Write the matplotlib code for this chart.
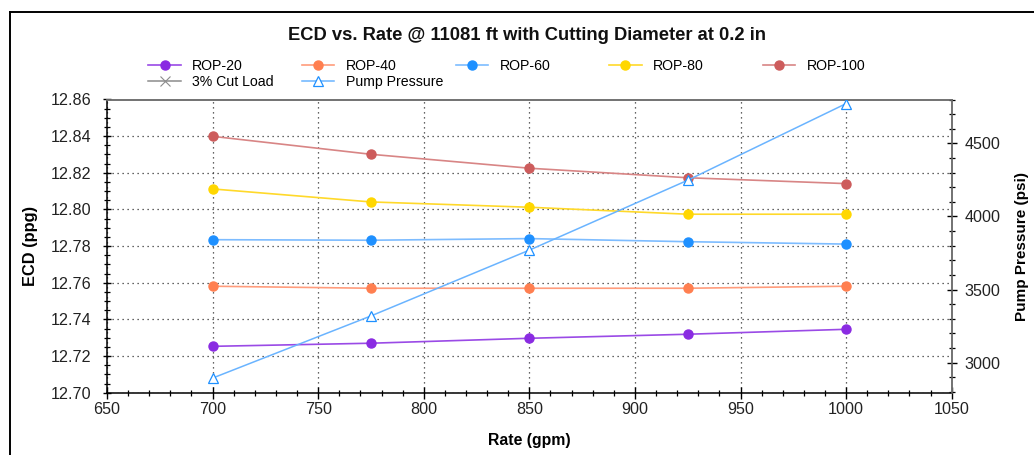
import matplotlib
matplotlib.use('Agg')
import matplotlib.pyplot as plt
from matplotlib.lines import Line2D
from matplotlib.ticker import MultipleLocator, FormatStrFormatter

plt.rcParams['font.family'] = ['Liberation Sans', 'DejaVu Sans']

# data
rates = [700, 775, 850, 925, 1000]
rop_20 = [12.7253, 12.7270, 12.7297, 12.7319, 12.7346]
rop_40 = [12.7581, 12.7570, 12.7570, 12.7570, 12.7581]
rop_60 = [12.7835, 12.7832, 12.7841, 12.7824, 12.7811]
rop_80 = [12.8112, 12.8041, 12.8012, 12.7974, 12.7974]
rop_100 = [12.8399, 12.8301, 12.8225, 12.8173, 12.8141]
pump_pressure = [2895, 3320, 3770, 4248, 4772]

series_names = ['ROP-20', 'ROP-40', 'ROP-60', 'ROP-80', 'ROP-100']
series_values = [rop_20, rop_40, rop_60, rop_80, rop_100]
marker_colors = ['#8a2be2', '#ff7f50', '#1e90ff', '#ffd700', '#cd5c5c']
line_colors = ['#9a4ae6', '#ff9c7c', '#7dbcff', '#ffd92a', '#d88585']

title = 'ECD vs. Rate @ 11081 ft with Cutting Diameter at 0.2 in'

W, H = 1034, 455
fig = plt.figure(figsize=(W / 100, H / 100), dpi=100)
ax = fig.add_axes([107 / W, 1 - 392.7 / H, (951.7 - 107) / W, (392.7 - 99.5) / H])
ax2 = ax.twinx()

handles = {}
for name, vals, mc, lc in zip(series_names, series_values, marker_colors, line_colors):
    h, = ax.plot(rates, vals, color=lc, lw=1.2, marker='o', ms=6.5,
                 mfc=mc, mec=mc, zorder=3)
    handles[name] = h

hp, = ax2.plot(rates, pump_pressure, color='#6ab4ff', lw=1.1, marker='^', ms=6.5,
               mfc='white', mec='#1e90ff', mew=0.9, zorder=3)
handles['Pump Pressure'] = hp
handles['3% Cut Load'] = Line2D([], [], color='#8c8c8c', lw=1.1, marker='x', ms=7, mew=0.8)

# axes limits and ticks
ax.set_xlim(650, 1050)
ax.set_ylim(12.70, 12.86)
ax2.set_ylim(2795, 4800)
ax.xaxis.set_major_locator(MultipleLocator(50))
ax.xaxis.set_minor_locator(MultipleLocator(10))
ax.yaxis.set_major_locator(MultipleLocator(0.02))
ax.yaxis.set_minor_locator(MultipleLocator(0.005))
ax.yaxis.set_major_formatter(FormatStrFormatter('%.2f'))
ax2.yaxis.set_major_locator(MultipleLocator(500))
ax2.yaxis.set_minor_locator(MultipleLocator(100))

ax.tick_params(axis='x', which='major', direction='inout', length=8, width=1, labelsize=11.6, pad=3)
ax.tick_params(axis='x', which='minor', direction='inout', length=4.5, width=0.9)
ax.tick_params(axis='y', which='major', direction='inout', length=6, width=1, labelsize=11.6, pad=8)
ax.tick_params(axis='y', which='minor', direction='inout', length=4, width=0.9)
ax2.tick_params(axis='y', which='major', direction='inout', length=7, width=1, labelsize=11.6, pad=6)
ax2.tick_params(axis='y', which='minor', direction='inout', length=4, width=0.9)
for t in ax.get_xticklabels() + ax.get_yticklabels() + ax2.get_yticklabels():
    t.set_color('#222222')

ax.grid(True, which='major', color='#333333', lw=0.9, linestyle=(0, (1, 3)))

for s in ['left', 'bottom']:
    ax.spines[s].set_color('black')
    ax.spines[s].set_linewidth(1.1)
for s in ['top', 'right']:
    ax.spines[s].set_color('#6e6e6e')
    ax.spines[s].set_linewidth(1.1)
    ax2.spines[s].set_color('#6e6e6e')
    ax2.spines[s].set_linewidth(1.1)
ax2.spines['left'].set_visible(False)
ax2.spines['bottom'].set_visible(False)

ax.set_xlabel('Rate (gpm)', fontsize=11.3, fontweight='bold')
ax.set_ylabel('ECD (ppg)', fontsize=11.8, fontweight='bold')
ax2.set_ylabel('Pump Pressure (psi)', fontsize=11, fontweight='bold')
ax.xaxis.set_label_coords(0.5, (392.7 - 440) / 293.2)
ax.yaxis.set_label_coords((30 - 107) / 844.7, 0.5)
ax2.yaxis.set_label_coords((1022 - 107) / 844.7, 0.5)
for lab in [ax.xaxis.label, ax.yaxis.label, ax2.yaxis.label]:
    lab.set_va('center')
    lab.set_ha('center')

fig.text(527 / W, 1 - 35 / H, title, ha='center', va='center',
         fontsize=13.2, fontweight='bold', color='#111111')

# legend laid out on an even grid like the reference
legend_order = [['ROP-20', 'ROP-40', 'ROP-60', 'ROP-80', 'ROP-100'],
                ['3% Cut Load', 'Pump Pressure']]
row_y = [66, 82]
for r, row in enumerate(legend_order):
    for c, name in enumerate(row):
        fig.legend(handles=[handles[name]], labels=[name], loc='center left',
                   bbox_to_anchor=((148.3 + c * 153.6) / W, 1 - row_y[r] / H),
                   frameon=False, borderpad=0, borderaxespad=0,
                   handlelength=2.3, handletextpad=0.8, fontsize=10.2)

# outer frame of the chart panel (top and left edges visible)
fig.add_artist(Line2D([9.5 / W, 1], [1 - 12 / H, 1 - 12 / H], color='black', lw=1.4,
                      transform=fig.transFigure))
fig.add_artist(Line2D([9.5 / W, 9.5 / W], [0, 1 - 12 / H], color='black', lw=1.4,
                      transform=fig.transFigure))

fig.savefig('out.png', dpi=100)
